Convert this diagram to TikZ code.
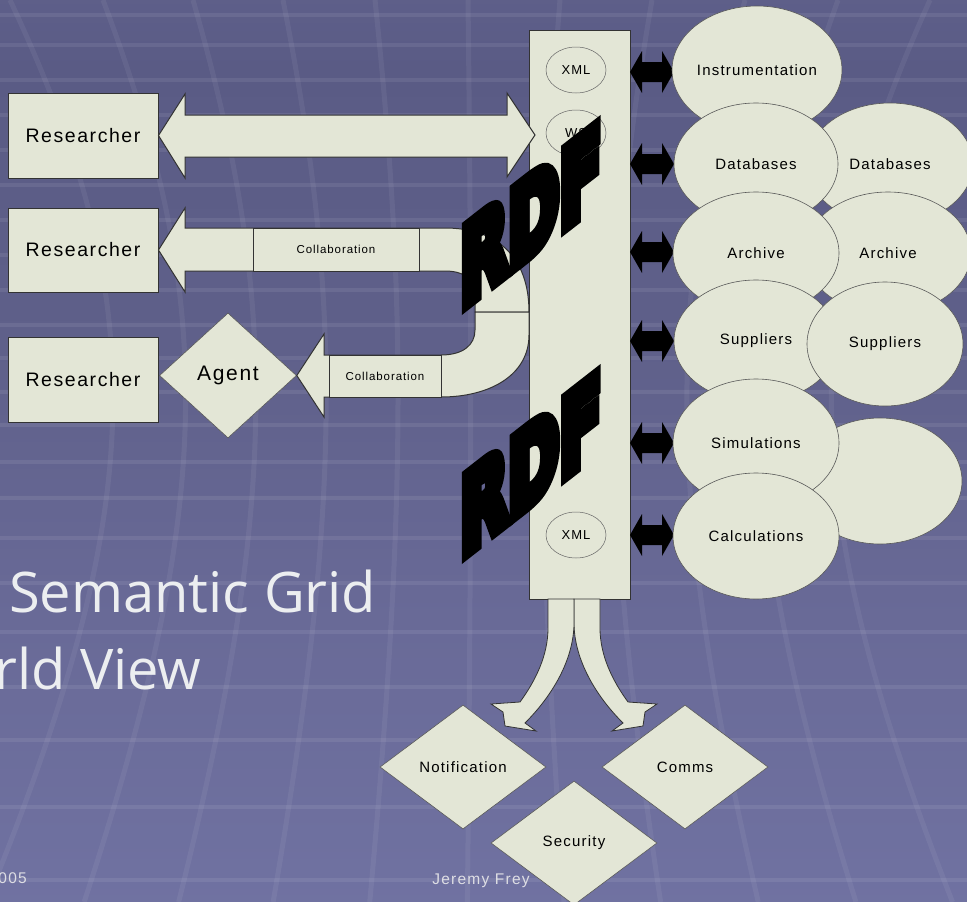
\documentclass[tikz,border=0pt]{standalone}
\usepackage{fontspec}
\setmainfont{Liberation Sans}
\newfontfamily\lab[LetterSpace=8]{Liberation Sans}
\newfontfamily\titlefont{Open Sans}
\newfontface\rdffont[FakeBold=13]{DejaVu Sans Bold}
\usetikzlibrary{shapes.geometric}
\definecolor{shapefill}{RGB}{227,230,214}
\definecolor{bgA}{RGB}{114,116,164}
\definecolor{bgB}{RGB}{104,105,150}
\definecolor{bgC}{RGB}{90,91,133}
\definecolor{bgD}{RGB}{95,96,138}
\definecolor{bgE}{RGB}{104,105,150}
\definecolor{bgF}{RGB}{113,115,163}
\definecolor{bgG}{RGB}{118,120,170}
\definecolor{titlecol}{RGB}{236,238,240}
\definecolor{footcol}{RGB}{222,222,228}
\pgfdeclareverticalshading{bgsh}{100bp}{color(0bp)=(bgG); color(22.4bp)=(bgF); color(42.4bp)=(bgE); color(55.7bp)=(bgD); color(71.2bp)=(bgC); color(85.6bp)=(bgB); color(100bp)=(bgA)}
\begin{document}
\begin{tikzpicture}[x=1pt,y=-1pt,line join=miter,
  shp/.style={fill=shapefill,draw=black!80,line width=1pt},
  ell/.style={ellipse,fill=shapefill,draw=black!65,line width=0.6pt,inner sep=0pt},
  xmlell/.style={ellipse,draw=black!60,line width=0.5pt,inner sep=0pt,minimum width=60pt,minimum height=46pt,font=\lab\fontsize{13}{15}\selectfont},
  dia/.style={diamond,fill=shapefill,draw=black!65,line width=0.6pt,inner sep=0pt},
  lbl/.style={font=\lab\fontsize{15}{17}\selectfont},
  rbox/.style={shp,minimum width=150pt,inner sep=0pt,font=\lab\fontsize{19.5}{21}\selectfont},
  cbox/.style={shp,inner sep=0pt,font=\lab\fontsize{11.5}{13}\selectfont},
  rdf/.style={font=\rdffont\fontsize{107}{107}\selectfont,inner sep=0pt,anchor=base west,cm={0.58,0.452,0,1,(0,0)}},
  blkarrow/.style={fill=black},
  gridh/.style={draw=white,draw opacity=0.08,line width=3.5pt},
  gridv/.style={draw=white,draw opacity=0.06,line width=5pt},
  titletxt/.style={font=\titlefont\fontsize{56}{60}\selectfont,text=titlecol,inner sep=0pt},
  foottxt/.style={font=\lab\fontsize{15.5}{17}\selectfont,text=footcol,inner sep=0pt}
]
\useasboundingbox (0,0) rectangle (967,902);
% background
\fill[shading=bgsh] (0,0) rectangle (967,902);
\foreach \yy in {15,45,80,115,150,185,220,255,290,325,358,392,425,462,498,538,583,632,687,740,807,880}
  {\draw[gridh] (0,\yy) -- (967,\yy);}
\foreach \xx in {10,103,193,283,375,468,560,652,745,838,930}
  {\pgfmathsetmacro\kk{(480-\xx)*0.5}
   \draw[gridv] (\xx,0) .. controls ({\xx+0.6*\kk},300) and ({\xx+0.6*\kk},500) .. ({\xx-0.1*\kk},902);}
% title and footer
\node[titletxt,anchor=base west] (title1) at (9,612) {Semantic Grid};
\node[titletxt,anchor=base west] (title2) at (-6,689) {rld View};
\node[foottxt,anchor=base east] (foot1) at (27,883) {005};
\node[foottxt,anchor=base] (foot2) at (481,884) {Jeremy Frey};
% researchers
\node[rbox,minimum height=85pt] (r1) at (83,135.5) {Researcher};
\node[rbox,minimum height=84pt] (r2) at (83,250) {Researcher};
\node[rbox,minimum height=85pt] (r3) at (83,379.5) {Researcher};
% central column
\node[shp,minimum width=101pt,minimum height=569pt,inner sep=0pt] (col) at (579.5,314.5) {};
\node[xmlell] (xml1) at (576,70) {XML};
\node[xmlell] (ws) at (576,133) {WS};
\node[xmlell] (xml2) at (576,535) {XML};
% top double arrow
\draw[shp] (r1.east) -- (185,94) -- (185,115) -- (507,115) -- (507,93) -- (535,135) -- (507,177) -- (507,157) -- (185,157) -- (185,178) -- cycle;
% agent
\node[dia,minimum width=137pt,minimum height=125pt,font=\lab\fontsize{21}{23}\selectfont] (agent) at (228,375.5) {Agent};
% curved collaboration arrows
\draw[shp] (r2.east) -- (185,208) -- (185,228) -- (445,228) .. controls (495,228) and (529,255) .. (529,312) -- (475,312) -- (475,292) .. controls (475,278) and (462,271) .. (445,271) -- (185,271) -- (185,292) -- cycle;
\draw[shp] (agent.east) -- (324,334) -- (324,355) -- (441,355) .. controls (463,355) and (475,345) .. (475,330) -- (475,312) -- (529,312) -- (529,335) .. controls (529,375) and (490,397) .. (441,397) -- (324,397) -- (324,417) -- cycle;
\node[cbox,minimum width=166pt,minimum height=43pt] (c1) at (336,249.5) {Collaboration};
\node[cbox,minimum width=112pt,minimum height=42pt] (c2) at (385,376) {Collaboration};
% RDF
\begin{scope}[shift={(460,309.5)}]
\node[rdf] (rdf1) at (0,0) {RDF};
\end{scope}
\begin{scope}[shift={(460,558.5)}]
\node[rdf] (rdf2) at (0,0) {RDF};
\end{scope}
% black double arrows
\foreach \yy in {72,164,252,341,443,535}
  {\fill[blkarrow] (630,\yy) -- (642,\yy-21) -- (642,\yy-10) -- (662,\yy-10) -- (662,\yy-21) -- (674,\yy) -- (662,\yy+21) -- (662,\yy+10) -- (642,\yy+10) -- (642,\yy+21) -- cycle;}
% resources
\node[ell,lbl,minimum width=166pt,minimum height=128pt] (inst) at (757,70) {Instrumentation};
\node[ell,lbl,minimum width=166pt,minimum height=122pt] (dbR) at (890,164) {Databases};
\node[ell,lbl,minimum width=164pt,minimum height=122pt] (dbL) at (756,164) {Databases};
\node[ell,lbl,minimum width=166pt,minimum height=122pt] (arR) at (888,253) {Archive};
\node[ell,lbl,minimum width=166pt,minimum height=122pt] (arL) at (756,253) {Archive};
\node[ell,lbl,minimum width=164pt,minimum height=122pt] (suL) at (756,341) {Suppliers};
\node[ell,lbl,minimum width=156pt,minimum height=124pt] (suR) at (885,344) {Suppliers};
\node[ell,minimum width=164pt,minimum height=126pt] (blank) at (880,481) {};
\node[ell,lbl,minimum width=166pt,minimum height=128pt] (sim) at (756,443) {Simulations};
\node[ell,lbl,minimum width=166pt,minimum height=126pt] (calc) at (756,536) {Calculations};
% bottom curved arrows
\draw[shp,line width=0.8pt] (574,599) -- (574,625) .. controls (575,660) and (595,695) .. (623,723) -- (612,731) -- (643,726) -- (645,712) -- (657,704) -- (628,702) .. controls (612,680) and (600,655) .. (600,628) -- (600,599) -- cycle;
\draw[shp,line width=0.8pt] (574,599) -- (574,625) .. controls (573,660) and (553,695) .. (525,723) -- (536,731) -- (505,726) -- (503,712) -- (491,704) -- (520,702) .. controls (536,680) and (548,655) .. (548,628) -- (548,599) -- cycle;
% services
\node[dia,lbl,minimum width=166pt,minimum height=124pt] (notif) at (463,767) {Notification};
\node[dia,lbl,minimum width=166pt,minimum height=124pt] (comms) at (685,767) {Comms};
\node[dia,lbl,minimum width=166pt,minimum height=124pt] (sec) at (574,843) {Security};
\end{tikzpicture}
\end{document}
